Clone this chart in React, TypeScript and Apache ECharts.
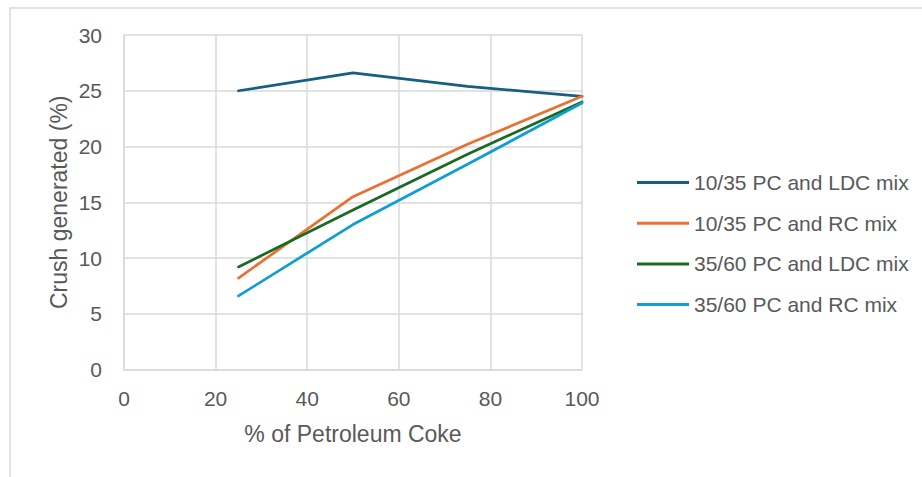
import React, { useEffect, useRef } from "react";
import * as echarts from "echarts";

// % of petroleum coke in each blend
const cokeShare = [25, 50, 75, 100];

// Crush generated (%) for each blend
const pc1035Ldc = [25.0, 26.6, 25.4, 24.5];
const pc1035Rc = [8.2, 15.5, 20.2, 24.5];
const pc3560Ldc = [9.2, 14.3, 19.3, 24.0];
const pc3560Rc = [6.6, 13.0, 18.4, 23.9];

const seriesNames = [
  "10/35 PC and LDC mix",
  "10/35 PC and RC mix",
  "35/60 PC and LDC mix",
  "35/60 PC and RC mix",
];
const seriesValues = [pc1035Ldc, pc1035Rc, pc3560Ldc, pc3560Rc];
const seriesColors = ["#156082", "#E97132", "#196B24", "#0F9ED5"];

const FONT = "'Liberation Sans', Arial, sans-serif";
const TEXT = "#595959";
const GRID = "#d9d9d9";

export default function App() {
  const ref = useRef<HTMLDivElement>(null);

  useEffect(() => {
    if (!ref.current) return;
    const chart = echarts.init(ref.current, undefined, { renderer: "svg" });

    chart.setOption({
      animation: false,
      backgroundColor: "#ffffff",
      textStyle: { fontFamily: FONT },
      graphic: [
        {
          type: "rect",
          shape: { x: 10, y: 8, width: 1000, height: 600 },
          style: { fill: "none", stroke: GRID, lineWidth: 1.5 },
          silent: true,
        },
      ],
      grid: { left: 124, right: 340, top: 35, bottom: 107.5 },
      legend: {
        orient: "vertical",
        left: 637,
        top: 170.5,
        padding: 0,
        itemWidth: 52,
        itemHeight: 3,
        itemGap: 16.7,
        icon: "rect",
        textStyle: { color: TEXT, fontSize: 21, fontFamily: FONT, lineHeight: 24 },
        data: seriesNames,
      },
      xAxis: {
        type: "value",
        min: 0,
        max: 100,
        interval: 20,
        name: "% of Petroleum Coke",
        nameLocation: "middle",
        nameGap: 53,
        nameTextStyle: { color: TEXT, fontSize: 23, fontFamily: FONT },
        axisLine: { show: true, lineStyle: { color: GRID, width: 1.5 } },
        axisTick: { show: false },
        axisLabel: { color: TEXT, fontSize: 21, margin: 18, fontFamily: FONT },
        splitLine: { show: true, lineStyle: { color: GRID, width: 1.5 } },
      },
      yAxis: {
        type: "value",
        min: 0,
        max: 30,
        interval: 5,
        name: "Crush generated (%)",
        nameLocation: "middle",
        nameGap: 53.5,
        nameTextStyle: { color: TEXT, fontSize: 23, fontFamily: FONT },
        axisLine: { show: true, lineStyle: { color: GRID, width: 1.5 } },
        axisTick: { show: false },
        axisLabel: { color: TEXT, fontSize: 21, margin: 22, fontFamily: FONT },
        splitLine: { show: true, lineStyle: { color: GRID, width: 1.5 } },
      },
      series: seriesNames.map((name, i) => ({
        name,
        type: "line",
        data: cokeShare.map((x, j) => [x, seriesValues[i][j]]),
        showSymbol: false,
        symbol: "none",
        color: seriesColors[i],
        lineStyle: { width: 2.75, color: seriesColors[i], cap: "round", join: "round" },
      })),
    });

    return () => chart.dispose();
  }, []);

  return (
    <div
      ref={ref}
      style={{ position: "fixed", left: 0, top: 0, width: 922, height: 477 }}
    />
  );
}
